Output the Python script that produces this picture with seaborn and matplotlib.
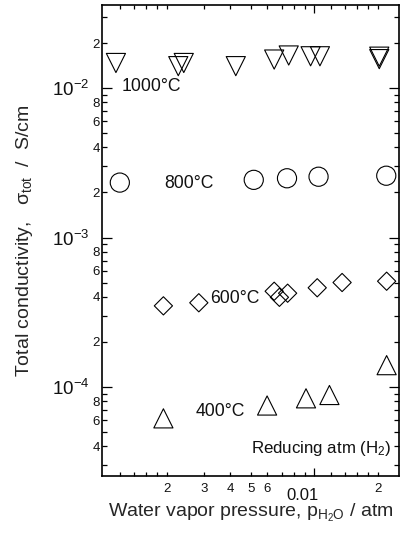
import numpy as np
import pandas as pd
import matplotlib
matplotlib.use("Agg")
import matplotlib.pyplot as plt
import matplotlib.ticker as mticker
import matplotlib.transforms as mtransforms
import seaborn as sns

# ---- data ----
x_1000 = [0.00115, 0.00227, 0.00241, 0.00425, 0.00646, 0.00757, 0.00961, 0.01064, 0.02032, 0.02032]
y_1000 = [0.0147, 0.0140, 0.0147, 0.0140, 0.0155, 0.0165, 0.0163, 0.0163, 0.0162, 0.0156]

x_800 = [0.00120, 0.00517, 0.00743, 0.01048, 0.02193]
y_800 = [0.00233, 0.00243, 0.00249, 0.00255, 0.00259]

x_600 = [0.00193, 0.00284, 0.00646, 0.00684, 0.00748, 0.01033, 0.01355, 0.02202]
y_600 = [0.000349, 0.000366, 0.000437, 0.000398, 0.000424, 0.000461, 0.000500, 0.000510]

x_400 = [0.00193, 0.00598, 0.00914, 0.01180, 0.02202]
y_400 = [6.17e-5, 7.52e-5, 8.40e-5, 8.84e-5, 1.40e-4]

series_labels = ["1000°C", "800°C", "600°C", "400°C"]
note_label = "Reducing atm (H$_2$)"

x_minor_ticks = [0.0012, 0.0014, 0.0016, 0.0018, 0.002, 0.003, 0.004, 0.005, 0.006,
                 0.007, 0.008, 0.009, 0.012, 0.014, 0.016, 0.018, 0.02]
x_minor_labels = ["", "", "", "", "2", "3", "4", "5", "6", "", "", "", "", "", "", "", "2"]
x_major_ticks = [0.01]
x_major_labels = ["0.01"]
y_major_ticks = [1e-4, 1e-3, 1e-2]
y_major_labels = ["$10^{-4}$", "$10^{-3}$", "$10^{-2}$"]

# ---- style ----
sns.set_theme(style="ticks")
plt.rcParams["font.family"] = ["Liberation Sans", "DejaVu Sans"]
plt.rcParams["mathtext.fontset"] = "custom"
plt.rcParams["mathtext.rm"] = "Liberation Sans"
plt.rcParams["mathtext.it"] = "Liberation Sans"
plt.rcParams["mathtext.bf"] = "Liberation Sans:bold"
plt.rcParams["text.color"] = "#111111"

fig = plt.figure(figsize=(4.14, 5.38), dpi=100)
ax = fig.add_axes([102 / 414, 1 - 476 / 538, 297 / 414, 471 / 538])

common = dict(facecolor="none", edgecolor="black", linewidth=0.8, ax=ax, legend=False, zorder=3)
sns.scatterplot(x=x_1000, y=y_1000, marker="v", s=190, **common)
sns.scatterplot(x=x_800, y=y_800, marker="o", s=190, **common)
sns.scatterplot(x=x_600, y=y_600, marker="D", s=86, **common)
sns.scatterplot(x=x_400, y=y_400, marker="^", s=190, **common)

ax.set_xscale("log")
ax.set_yscale("log")
ax.set_xlim(0.000988, 0.0252)
ax.set_ylim(2.539e-5, 0.03591)

# x ticks
ax.xaxis.set_major_locator(mticker.FixedLocator(x_major_ticks))
ax.xaxis.set_major_formatter(mticker.FixedFormatter(x_major_labels))
ax.xaxis.set_minor_locator(mticker.FixedLocator(x_minor_ticks))
ax.xaxis.set_minor_formatter(mticker.FixedFormatter(x_minor_labels))

# y ticks
ax.yaxis.set_major_locator(mticker.FixedLocator(y_major_ticks))
ax.yaxis.set_major_formatter(mticker.FixedFormatter(y_major_labels))
y_minor = [m * 10.0 ** e for e in (-5, -4, -3, -2) for m in range(2, 10)]
ax.yaxis.set_minor_locator(mticker.FixedLocator(y_minor))
def yminor_fmt(v, pos):
    m = int(round(v / 10 ** np.floor(np.log10(v) + 1e-9)))
    return str(m) if m in (2, 4, 6, 8) else ""
ax.yaxis.set_minor_formatter(mticker.FuncFormatter(yminor_fmt))

ax.tick_params(which="both", direction="in", top=True, right=True,
               width=0.9, color="black", labelcolor="#111111")
ax.tick_params(axis="y", which="major", length=7, pad=9, labelsize=13.5)
ax.tick_params(axis="y", which="minor", length=3.5, pad=1.5, labelsize=9.5)
ax.tick_params(axis="x", which="major", length=6, pad=9, labelsize=12)
ax.tick_params(axis="x", which="minor", length=3, pad=5, labelsize=9.5)

for lab in ax.get_xticklabels(which="major"):
    lab.set_transform(lab.get_transform() +
                      mtransforms.ScaledTranslation(-12 / 100, 0, fig.dpi_scale_trans))

for sp in ax.spines.values():
    sp.set_linewidth(1.2)
    sp.set_color("black")

ax.set_xlabel("Water vapor pressure, $p_{\\mathrm{H_2O}}$ / atm", fontsize=14)
ax.xaxis.set_label_coords(0.5, -0.056)
ax.set_ylabel("Total conductivity,   $\\sigma_{\\mathrm{tot}}$  /  S/cm", fontsize=14)
ax.yaxis.set_label_coords(-0.226, 0.5)

# temperature annotations (axes fraction positions)
ax.text(0.067, 0.826, series_labels[0], transform=ax.transAxes, fontsize=12.7, va="center", ha="left")
ax.text(0.209, 0.620, series_labels[1], transform=ax.transAxes, fontsize=12.7, va="center", ha="left")
ax.text(0.364, 0.376, series_labels[2], transform=ax.transAxes, fontsize=12.7, va="center", ha="left")
ax.text(0.3165, 0.136, series_labels[3], transform=ax.transAxes, fontsize=12.7, va="center", ha="left")
ax.text(0.976, 0.049, note_label, transform=ax.transAxes, fontsize=12.2, va="baseline", ha="right")

fig.savefig("out.png", dpi=100)
